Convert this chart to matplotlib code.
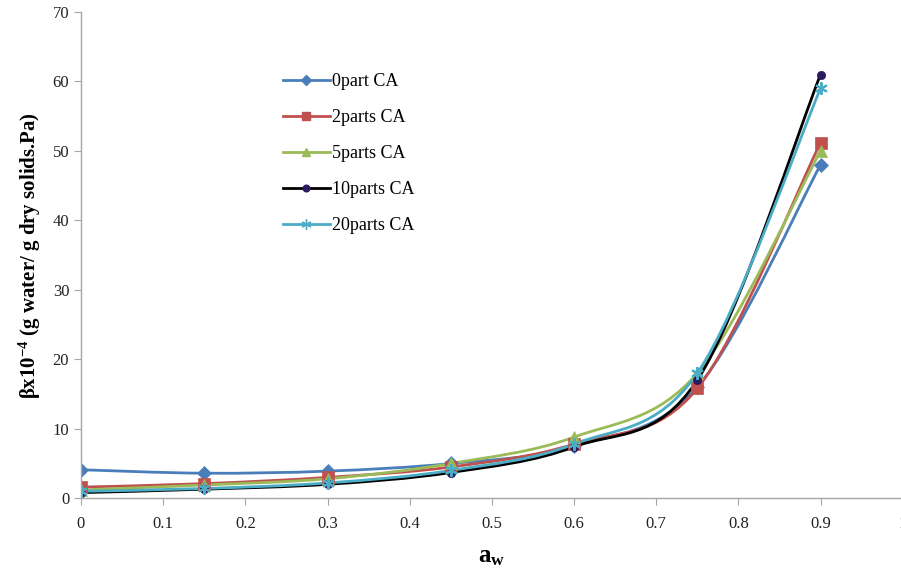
import numpy as np
import matplotlib
matplotlib.use("Agg")
import matplotlib.pyplot as plt
from matplotlib.path import Path
from matplotlib.patches import PathPatch
from matplotlib.lines import Line2D

plt.rcParams['font.family'] = ['Liberation Serif', 'DejaVu Serif']
plt.rcParams['mathtext.default'] = 'regular'

# ===================== DADOS =====================
aw = [0, 0.15, 0.3, 0.45, 0.6, 0.75, 0.9]
series_names = ["0part CA", "2parts CA", "5parts CA", "10parts CA", "20parts CA"]
beta_0 = [4.1, 3.6, 3.9, 5.0, 7.5, 16.0, 48.0]
beta_2 = [1.6, 2.1, 3.0, 4.5, 7.8, 15.8, 51.2]
beta_5 = [1.2, 1.9, 2.8, 5.0, 8.8, 18.0, 50.0]
beta_10 = [0.8, 1.3, 2.0, 3.7, 7.4, 17.0, 61.0]
beta_20 = [1.0, 1.4, 2.2, 4.0, 7.8, 18.0, 59.0]

cores = ["#4a7ebb", "#c0504d", "#9bbb59", "#000000", "#4bacc6"]
cores_marc = ["#4a7ebb", "#c0504d", "#9bbb59", "#2a1a5e", "#4bacc6"]
marcadores = ["D", "s", "^", "o", (6, 2, 0)]
tam_marc = [7, 8, 8, 6, 9]


# curva suave tipo Excel (Bezier cúbica, Catmull-Rom)
def curva_suave(x, y):
    pts = np.column_stack([x, y])
    verts = [pts[0]]
    codes = [Path.MOVETO]
    n = len(pts)
    for i in range(n - 1):
        p0 = pts[i - 1] if i > 0 else pts[i]
        p1 = pts[i]
        p2 = pts[i + 1]
        p3 = pts[i + 2] if i + 2 < n else pts[i + 1]
        c1 = p1 + (p2 - p0) / 6.0
        c2 = p2 - (p3 - p1) / 6.0
        verts += [c1, c2, p2]
        codes += [Path.CURVE4] * 3
    return Path(verts, codes)


fig = plt.figure(figsize=(9.01, 5.72), dpi=100)
ax = fig.add_axes([0.0899, 0.129, 0.912, 0.85])

todas = [beta_0, beta_2, beta_5, beta_10, beta_20]
for nome, vals, cor, cm, mk, ms in zip(series_names, todas, cores, cores_marc, marcadores, tam_marc):
    patch = PathPatch(curva_suave(aw, vals), facecolor="none", edgecolor=cor, lw=2.0)
    ax.add_patch(patch)
    ax.plot(aw, vals, linestyle="none", marker=mk, markersize=ms, color=cm,
            markeredgecolor=cm, markeredgewidth=1.5 if mk == (6, 2, 0) else 0.5)

ax.set_xlim(0, 1.0)
ax.set_ylim(0, 70)
ax.set_xticks(np.arange(0, 1.01, 0.1))
ax.set_xticklabels(["0", "0.1", "0.2", "0.3", "0.4", "0.5", "0.6", "0.7", "0.8", "0.9", "1"])
ax.set_yticks(range(0, 71, 10))

for lado in ["top", "right"]:
    ax.spines[lado].set_visible(False)
for lado in ["left", "bottom"]:
    ax.spines[lado].set_color("#a6a6a6")
    ax.spines[lado].set_linewidth(1.0)
ax.tick_params(axis="both", colors="#a6a6a6", length=5, labelsize=12, labelcolor="#222222")
ax.tick_params(axis="x", pad=8)

ax.set_ylabel("βx10$^{-4}$ (g water/ g dry solids.Pa)", fontsize=15, fontweight="bold", labelpad=7)
ax.set_xlabel("a$_{w}$", fontsize=18, fontweight="bold", labelpad=9)

# ===================== LEGENDA =====================
handles = []
for nome, cor, cm, mk, ms in zip(series_names, cores, cores_marc, marcadores, tam_marc):
    handles.append(Line2D([0], [0], color=cor, lw=2.0, marker=mk, markersize=ms * 0.8,
                          markerfacecolor=cm, markeredgecolor=cm))
ax.legend(handles, series_names, loc="upper left", bbox_to_anchor=(0.296, 0.9),
          bbox_transform=fig.transFigure, frameon=False, fontsize=13,
          handlelength=2.6, labelspacing=1.05, handletextpad=0.1)

fig.savefig("out.png", dpi=100)
